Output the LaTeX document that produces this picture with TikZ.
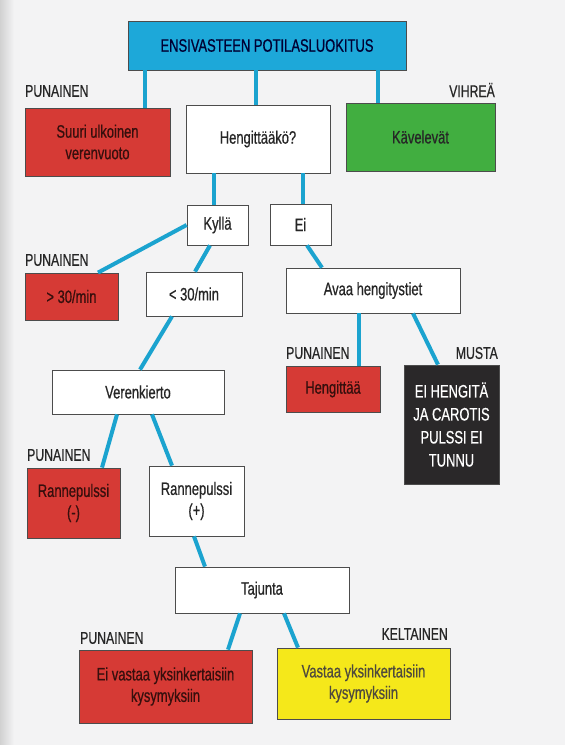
\documentclass[tikz,border=0pt]{standalone}
\usepackage{fontspec}
\setmainfont[FakeStretch=0.72,FakeBold=0.6]{Liberation Sans}
\definecolor{triblue}{HTML}{1DA8D9}
\definecolor{trilink}{HTML}{1BA3CF}
\definecolor{trired}{HTML}{D63A35}
\definecolor{trigreen}{HTML}{41AE40}
\definecolor{triyellow}{HTML}{F5E81A}
\definecolor{triblack}{HTML}{2A2829}
\definecolor{tripage}{HTML}{F3F3F4}
\begin{document}
\begin{tikzpicture}[x=1pt,y=-1pt]
        \tikzstyle{box}=[draw=black!70,line width=0.8pt,align=center,inner sep=2pt,font=\fontsize{18}{21.5}\selectfont,text=black!85]
        \tikzstyle{whitebox}=[box,fill=white]
        \tikzstyle{redbox}=[box,fill=trired,text=black!75!trired]
        \tikzstyle{tag}=[font=\fontsize{17}{20}\selectfont,text=black!85,inner sep=0pt]
        \tikzstyle{edge}=[draw=trilink,line width=4pt]
       \useasboundingbox (0,0) rectangle (565,745);
       \fill[tripage] (0,0) rectangle (565,745);
       \shade[left color=black!18,right color=tripage] (0,0) rectangle (14,745);
       \begin{scope}
         \node [box,fill=triblue,text=black!80!blue,minimum width=278pt,minimum height=49pt] (top) at (267,45.5) {ENSIVASTEEN POTILASLUOKITUS};
         \node [redbox,minimum width=145pt,minimum height=68pt] (bleed) at (97.5,142) {Suuri ulkoinen\\verenvuoto};
         \node [whitebox,minimum width=144pt,minimum height=68pt] (breath) at (258,139) {Hengittääkö?};
         \node [box,fill=trigreen,text=black!85,minimum width=149pt,minimum height=68pt] (walk) at (420.5,137) {Kävelevät};
         \node [whitebox,minimum width=61pt,minimum height=40pt] (yes) at (217.5,225) {Kyllä};
         \node [whitebox,minimum width=61pt,minimum height=41pt] (no) at (300.5,224.5) {Ei};
         \node [redbox,minimum width=93pt,minimum height=47pt] (fast) at (71.5,296.5) {> 30/min};
         \node [whitebox,minimum width=96pt,minimum height=44pt] (slow) at (194,294) {< 30/min};
         \node [whitebox,minimum width=174pt,minimum height=45pt] (airway) at (373,290.5) {Avaa hengitystiet};
         \node [whitebox,minimum width=172pt,minimum height=44pt] (circ) at (138,392) {Verenkierto};
         \node [redbox,minimum width=94pt,minimum height=46pt] (breathes) at (333,389) {Hengittää};
         \node [box,fill=triblack,text=white,font=\fontsize{18}{23}\selectfont,minimum width=95pt,minimum height=119pt] (dead) at (451.5,424.5) {EI HENGITÄ\\JA CAROTIS\\PULSSI EI\\TUNNU};
         \node [redbox,minimum width=93pt,minimum height=70pt] (pulseneg) at (73.5,503) {Rannepulssi\\(-)};
         \node [whitebox,minimum width=95pt,minimum height=70pt] (pulsepos) at (196.5,501) {Rannepulssi\\(+)};
         \node [whitebox,minimum width=174pt,minimum height=46pt] (aware) at (262,590) {Tajunta};
         \node [redbox,minimum width=173pt,minimum height=73pt] (noanswer) at (165.5,686.5) {Ei vastaa yksinkertaisiin\\kysymyksiin};
         \node [box,fill=triyellow,text=black!80!yellow,minimum width=173pt,minimum height=71pt] (answer) at (363.5,683.5) {Vastaa yksinkertaisiin\\kysymyksiin};
         \node [tag,anchor=west] (red1) at (25,91) {PUNAINEN};
         \node [tag,anchor=east] (green) at (495,90) {VIHREÄ};
         \node [tag,anchor=west] (red2) at (25,260) {PUNAINEN};
         \node [tag,anchor=west] (red3) at (286,353) {PUNAINEN};
         \node [tag,anchor=east] (black) at (498,353) {MUSTA};
         \node [tag,anchor=west] (red4) at (27,455) {PUNAINEN};
         \node [tag,anchor=west] (red5) at (80,638) {PUNAINEN};
         \node [tag,anchor=east] (yellow) at (448,634) {KELTAINEN};
         \path[edge] ([xshift=-122pt]top.south) -- ([xshift=-122pt]top.south |- bleed.north);
         \path[edge] ([xshift=-11pt]top.south) -- ([xshift=-11pt]top.south |- breath.north);
         \path[edge] ([xshift=111pt]top.south) -- ([xshift=111pt]top.south |- walk.north);
         \path[edge] ([xshift=-44pt]breath.south) -- ([xshift=-44pt]breath.south |- yes.north);
         \path[edge] ([xshift=45pt]breath.south) -- ([xshift=45pt]breath.south |- no.north);
         \path[edge] (yes.west) -- ([xshift=26.5pt]fast.north);
         \path[edge] ([xshift=-7.5pt]yes.south) -- ([xshift=1pt]slow.north);
         \path[edge] ([xshift=6.5pt]no.south) -- ([xshift=-51pt]airway.north);
         \path[edge] ([xshift=-22pt]slow.south) -- ([xshift=2pt]circ.north);
         \path[edge] ([xshift=-14pt]airway.south) -- ([xshift=26pt]breathes.north);
         \path[edge] ([xshift=40pt]airway.south) -- ([xshift=-13.5pt]dead.north);
         \path[edge] ([xshift=-21pt]circ.south) -- ([xshift=28.5pt]pulseneg.north);
         \path[edge] ([xshift=14pt]circ.south) -- ([xshift=-24.5pt]pulsepos.north);
         \path[edge] ([xshift=-2.5pt]pulsepos.south) -- ([xshift=-57pt]aware.north);
         \path[edge] ([xshift=-22pt]aware.south) -- ([xshift=62.5pt]noanswer.north);
         \path[edge] ([xshift=22pt]aware.south) -- ([xshift=-65.5pt]answer.north);
        \end{scope}
      \end{tikzpicture}
\end{document}
